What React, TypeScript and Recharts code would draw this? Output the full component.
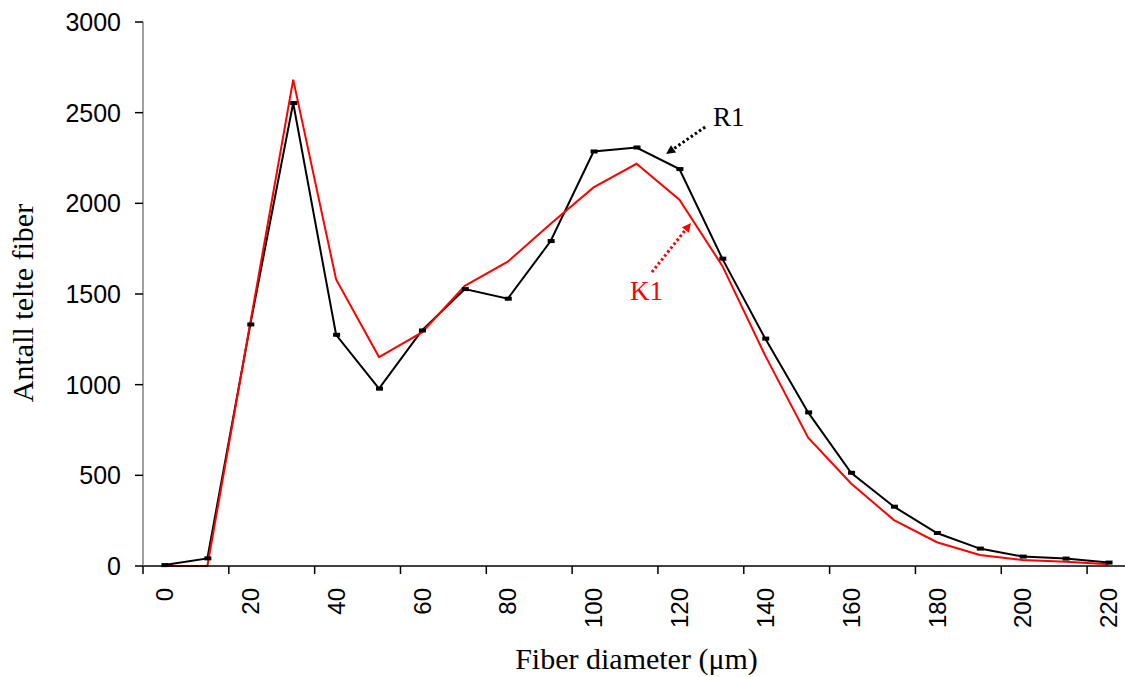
import React from "react";
import {
  LineChart,
  Line,
  XAxis,
  YAxis,
  ReferenceLine,
  ReferenceDot,
} from "recharts";

// fiber diameter classes (µm) and counted fibers per class
const diameters = [0, 10, 20, 30, 40, 50, 60, 70, 80, 90, 100, 110, 120, 130, 140, 150, 160, 170, 180, 190, 200, 210, 220];
const r1Counts = [5, 42, 1332, 2553, 1275, 978, 1299, 1527, 1474, 1792, 2286, 2308, 2189, 1695, 1254, 847, 514, 327, 182, 96, 52, 41, 19];
const k1Counts = [0, 0, 1340, 2682, 1580, 1152, 1288, 1545, 1678, 1888, 2088, 2218, 2020, 1655, 1160, 708, 455, 253, 131, 61, 33, 24, 9];

const xTicks = [0, 20, 40, 60, 80, 100, 120, 140, 160, 180, 200, 220];
const yTicks = [0, 500, 1000, 1500, 2000, 2500, 3000];

// annotation arrows: [x1, y1, x2 (head), y2 (head)] in data units
const r1Arrow = [126, 2421, 116.9, 2272];
const k1Arrow = [113.6, 1621, 122.7, 1892];
const r1LabelPos = [127.8, 2426];
const k1LabelPos = [108.5, 1467];

const rows = diameters.map((d, i) => ({ d, r1: r1Counts[i], k1: k1Counts[i] }));

const PX_PER_UNIT = 987 / 230;
const sansFont = "'Liberation Sans', Arial, sans-serif";
const serifFont = "'Liberation Serif', 'Times New Roman', serif";

const XTick = (props: any) => {
  const { x, y, payload } = props;
  const axisY = y - 8;
  const markX = x - 10 * PX_PER_UNIT / 2;
  const ty = axisY + 22;
  return (
    <g>
      <line x1={markX} y1={axisY} x2={markX} y2={axisY + 8} stroke="#000" strokeWidth={1.5} />
      <text
        x={x}
        y={ty}
        dy="0.36em"
        textAnchor="end"
        transform={`rotate(-90, ${x}, ${ty})`}
        fontSize={24}
        fontFamily={sansFont}
        fill="#000"
      >
        {payload.value}
      </text>
    </g>
  );
};

const R1Dot = (props: any) => {
  const { cx, cy } = props;
  if (cx == null || cy == null) return null;
  return <rect x={cx - 3} y={cy - 2} width={7} height={4} fill="#000" />;
};

const arrowShape = (color: string) => (props: any) => {
  const { x1, y1, x2, y2 } = props;
  const ang = Math.atan2(y2 - y1, x2 - x1);
  const len = 9;
  const w = 4.5;
  const bx = x2 - len * Math.cos(ang);
  const by = y2 - len * Math.sin(ang);
  const px = -Math.sin(ang) * w;
  const py = Math.cos(ang) * w;
  return (
    <g>
      <line x1={x1} y1={y1} x2={bx} y2={by} stroke={color} strokeWidth={3} strokeDasharray="2.5 2.5" />
      <polygon points={`${x2},${y2} ${bx + px},${by + py} ${bx - px},${by - py}`} fill={color} />
    </g>
  );
};

const labelShape = (text: string, color: string) => (props: any) => {
  const { cx, cy } = props;
  return (
    <text x={cx} y={cy} fontSize={27} fontFamily={serifFont} fill={color}>
      {text}
    </text>
  );
};

export default function App() {
  return (
    <div
      style={{
        position: "absolute",
        left: 0,
        top: 0,
        width: 1125,
        height: 677,
        overflow: "hidden",
        background: "#fff",
      }}
    >
      <LineChart width={1130} height={677} data={rows} margin={{ top: 22, right: 0, bottom: 0, left: 0 }}>
        <XAxis
          type="number"
          dataKey="d"
          domain={[-5, 225]}
          ticks={xTicks}
          interval={0}
          height={111}
          tickLine={false}
          tickSize={8}
          tickMargin={0}
          axisLine={{ stroke: "#000", strokeWidth: 1.5 }}
          tick={<XTick />}
          label={{
            value: "Fiber diameter (μm)",
            position: "insideBottom",
            offset: 8,
            style: { fontSize: 30, fontFamily: serifFont, fill: "#000" },
          }}
        />
        <YAxis
          type="number"
          domain={[0, 3000]}
          ticks={yTicks}
          interval={0}
          width={143}
          tickSize={8}
          tickMargin={14}
          axisLine={{ stroke: "#808080", strokeWidth: 1.5 }}
          tickLine={{ stroke: "#000", strokeWidth: 1.5 }}
          tick={{ fontSize: 25, fontFamily: sansFont, fill: "#000" }}
          label={{
            content: () => (
              <text
                x={33}
                y={303}
                textAnchor="middle"
                transform="rotate(-90, 33, 303)"
                fontSize={30}
                fontFamily={serifFont}
                fill="#000"
              >
                Antall telte fiber
              </text>
            ),
          }}
        />
        <Line
          type="linear"
          dataKey="r1"
          stroke="#000"
          strokeWidth={2}
          dot={<R1Dot />}
          activeDot={false}
          isAnimationActive={false}
        />
        <Line
          type="linear"
          dataKey="k1"
          stroke="#ff0000"
          strokeWidth={2}
          dot={false}
          activeDot={false}
          isAnimationActive={false}
        />
        <ReferenceLine
          segment={[
            { x: r1Arrow[0], y: r1Arrow[1] },
            { x: r1Arrow[2], y: r1Arrow[3] },
          ]}
          shape={arrowShape("#000")}
        />
        <ReferenceLine
          segment={[
            { x: k1Arrow[0], y: k1Arrow[1] },
            { x: k1Arrow[2], y: k1Arrow[3] },
          ]}
          shape={arrowShape("#ff0000")}
        />
        <ReferenceDot x={r1LabelPos[0]} y={r1LabelPos[1]} r={0} shape={labelShape("R1", "#000")} />
        <ReferenceDot x={k1LabelPos[0]} y={k1LabelPos[1]} r={0} shape={labelShape("K1", "#ff0000")} />
      </LineChart>
    </div>
  );
}
